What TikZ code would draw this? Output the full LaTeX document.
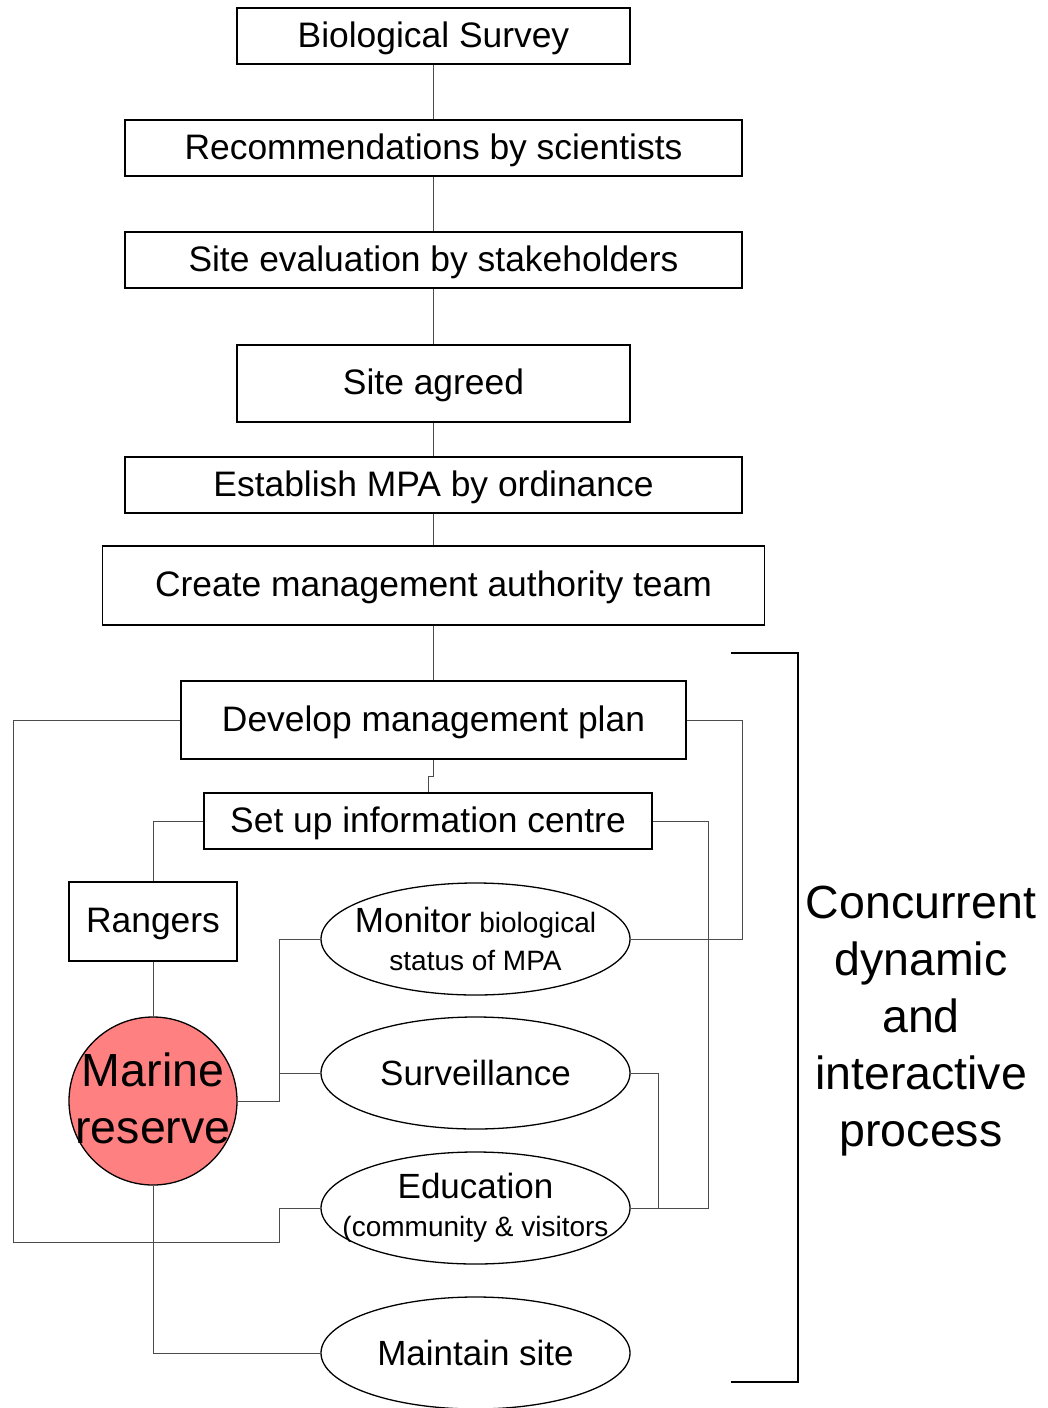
\documentclass[tikz,border=0pt]{standalone}
\usepackage{fontspec}
\setmainfont{Liberation Sans}
\usetikzlibrary{shapes.geometric}
\definecolor{reservered}{RGB}{255,128,128}

\begin{document}
\begin{tikzpicture}[x=1pt,y=-1pt,
	box/.style={draw,line width=1.3pt,inner sep=0pt,text height=26pt,text depth=4pt,font=\fontsize{35.4}{42}\selectfont},
	oval/.style={draw,ellipse,line width=1.3pt,inner sep=0pt,minimum width=309pt,minimum height=112pt},
	ovaltext/.style={align=center,inner sep=0pt,font=\fontsize{28}{38}\selectfont},
	bigtext/.style={align=center,inner sep=0pt,font=\fontsize{46.5}{57}\selectfont},
	link/.style={line width=1pt,black!70}]
\useasboundingbox (0,0) rectangle (1047,1408);
%%%%%%%%%%%%%%%%%%%%%%%%%%%%%%%%%%%%%%%%%%%%%%%%%%%%%%%%%%%%
	\node[box,minimum width=393pt,minimum height=56pt] (bio) at (433.5,36) {Biological Survey};
	\node[box,minimum width=617pt,minimum height=56pt] (rec) at (433.5,148) {Recommendations by scientists};
	\node[box,minimum width=617pt,minimum height=56pt] (eval) at (433.5,260) {Site evaluation by stakeholders};
	\node[box,minimum width=393pt,minimum height=77pt] (agreed) at (433.5,383.5) {Site agreed};
	\node[box,minimum width=617pt,minimum height=56pt] (ord) at (433.5,485) {Establish MPA by ordinance};
	\node[box,minimum width=662pt,minimum height=79pt] (team) at (433.5,585.5) {Create management authority team};
	\node[box,minimum width=505pt,minimum height=78pt] (plan) at (433.5,720) {Develop management plan};
	\node[box,minimum width=448pt,minimum height=56pt] (info) at (428,821) {Set up information centre};
	\node[box,minimum width=168pt,minimum height=79pt] (rang) at (153,921.5) {Rangers};
%	\draw (rang)++(0,-0.5) node {};
	\node[draw,circle,line width=1.3pt,fill=reservered,minimum size=168pt,inner sep=0pt,
		label={[bigtext,name=restext,yshift=3pt]center:Marine\\reserve}] (res) at (153,1101) {};
%%%%%%%%%%%%%%%%%%%%%%%%%%%%%%%%%%%%%%%%%%%%%%%%%%%%%%%%%%%%
	\node[oval,label={[ovaltext,name=montext]center:{\fontsize{35}{38}\selectfont Monitor} biological\\status of MPA}] (mon) at (475.5,939) {};
	\node[oval,label={[ovaltext,name=survtext]center:{\fontsize{35}{38}\selectfont Surveillance}}] (surv) at (475.5,1073) {};
	\node[oval,label={[ovaltext,name=edutext]center:{\fontsize{35}{38}\selectfont Education}\\(community \& visitors}] (edu) at (475.5,1208) {};
	\node[oval,label={[ovaltext,name=mainttext]center:{\fontsize{35}{38}\selectfont Maintain site}}] (maint) at (475.5,1353) {};
	\node[bigtext] (proc) at (921,1021) {Concurrent\\dynamic\\and\\interactive\\process};
%%%%%%%%%%%%%%%%%%%%%%%%%%%%%%%%%%%%%%%%%%%%%%%%%%%%%%%%%%%%
	\draw[link] (bio) -- (rec);
	\draw[link] (rec) -- (eval);
	\draw[link] (eval) -- (agreed);
	\draw[link] (agreed) -- (ord);
	\draw[link] (ord) -- (team);
	\draw[link] (team) -- (plan);
	\draw[link] (plan.south) -- ++(0,17) -| (info.north);
	\draw[link] (plan.west) -| (13,1242) -| (279,1208) -- (edu.west);
	\draw[link] (plan.east) -| (742,939) -- (mon.east);
	\draw[link] (info.west) -| (rang.north);
	\draw[link] (info.east) -| (708,1208) -- (edu.east);
	\draw[link] (rang) -- (res);
	\draw[link] (res.east) -- ++(42,0) |- (mon.west);
	\draw[link] (res.east) -- ++(42,0) |- (surv.west);
	\draw[link] (surv.east) -- ++(28,0) |- (edu.east);
	\draw[link] (res.south) |- (maint.west);
%	\draw[link] (res.south) -- (maint.west);
	\draw[line width=2pt] (731,653) -| (798,1382) -- (731,1382);
\end{tikzpicture}
\end{document}
